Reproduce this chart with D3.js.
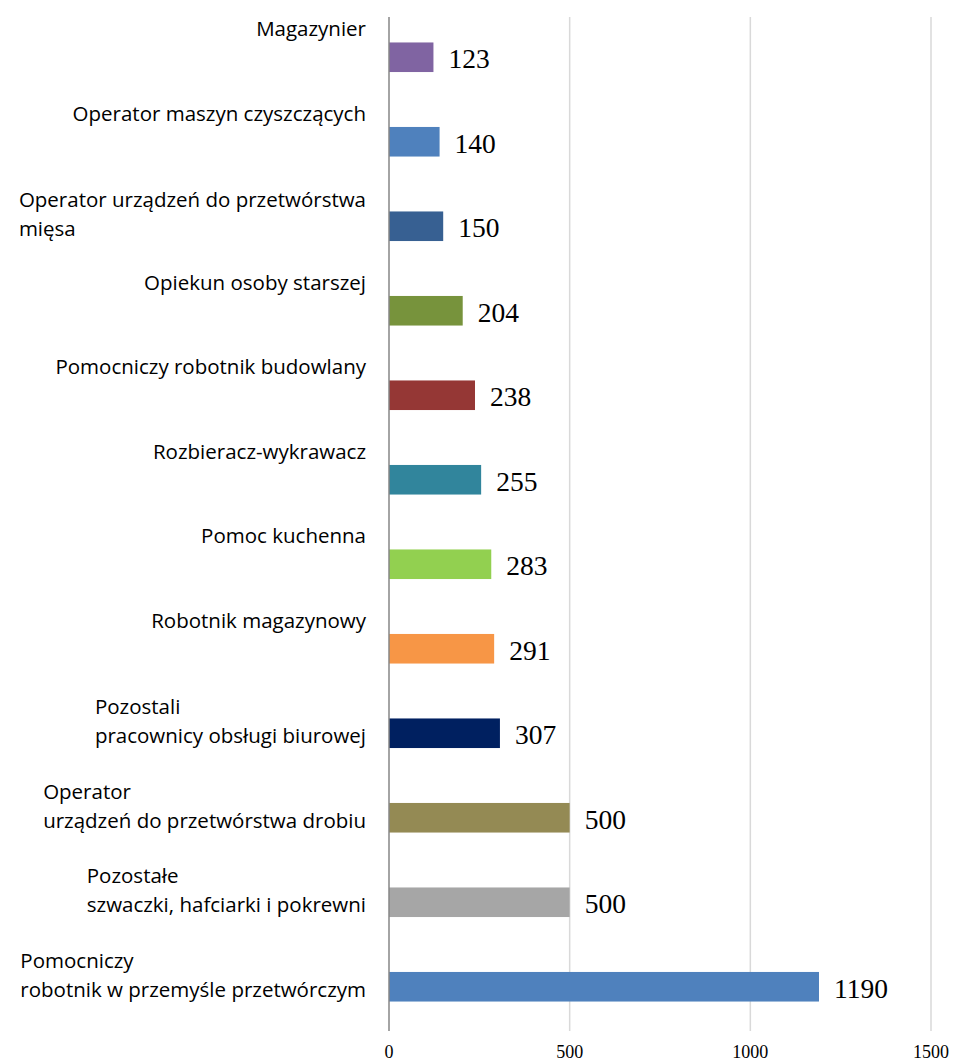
<!DOCTYPE html>
<html>
  <head>
    <meta charset="utf-8">
    <title>Zawody - bar chart</title>
    <style>
      body { margin: 0; background: #fff; }
      .cat { font-family: "Open Sans", sans-serif; font-size: 20.5px; fill: #000; }
      .val { font-family: "Liberation Serif", "Times New Roman", serif; font-size: 27.5px; fill: #000; }
      .tick { font-family: "Liberation Serif", "Times New Roman", serif; font-size: 18px; fill: #000; }
    </style>
  </head>
  <body>
    <div id="chart"></div>
    <script src="https://cdn.jsdelivr.net/npm/d3@7"></script>
    <script>

        var categories = [
          "Magazynier",
          "Operator maszyn czyszczących",
          "Operator urządzeń do przetwórstwa\nmięsa",
          "Opiekun osoby starszej",
          "Pomocniczy robotnik budowlany",
          "Rozbieracz-wykrawacz",
          "Pomoc kuchenna",
          "Robotnik magazynowy",
          "Pozostali\npracownicy obsługi biurowej",
          "Operator\nurządzeń do przetwórstwa drobiu",
          "Pozostałe\nszwaczki, hafciarki i pokrewni",
          "Pomocniczy\nrobotnik w przemyśle przetwórczym"
        ];
        var values = [123, 140, 150, 204, 238, 255, 283, 291, 307, 500, 500, 1190];
        var colors = ["#8064a2", "#4f81bd", "#376092", "#77933c", "#953735", "#31859c",
                      "#92d050", "#f79646", "#002060", "#948a54", "#a6a6a6", "#4f81bd"];
        var tickValues = [0, 500, 1000, 1500];

        var width = 954;
        var height = 1064;
        var labelRight = 366;

        var svg = d3.select('#chart')
          .append('svg')
          .attr('width', width)
          .attr('height', height);

        var x = d3.scaleLinear()
          .domain([0, 1500])
          .range([389, 931]);

        var y = d3.scaleBand()
          .domain(categories)
          .range([15, 1029])
          .paddingInner(0.65)
          .paddingOuter(0.325);

        var axisTop = 17, axisBottom = 1031;

        // gridlines
        svg.selectAll('line.grid')
          .data(tickValues.slice(1))
          .enter()
          .append('line')
          .attr('class', 'grid')
          .attr('x1', function(d) { return x(d); })
          .attr('x2', function(d) { return x(d); })
          .attr('y1', axisTop)
          .attr('y2', axisBottom)
          .attr('stroke', '#d9d9d9')
          .attr('stroke-width', 1.5);

        // bars
        svg.selectAll('rect.bar')
          .data(values)
          .enter()
          .append('rect')
          .attr('class', 'bar')
          .attr('x', x(0))
          .attr('y', function(d, i) { return y(categories[i]); })
          .attr('width', function(d) { return x(d) - x(0); })
          .attr('height', y.bandwidth())
          .attr('fill', function(d, i) { return colors[i]; });

        // zero axis line
        svg.append('line')
          .attr('x1', x(0)).attr('x2', x(0))
          .attr('y1', axisTop).attr('y2', axisBottom)
          .attr('stroke', '#868686')
          .attr('stroke-width', 1.5);

        // value labels
        svg.selectAll('text.val')
          .data(values)
          .enter()
          .append('text')
          .attr('class', 'val')
          .attr('x', function(d) { return x(d) + 15; })
          .attr('y', function(d, i) { return y(categories[i]) + y.bandwidth() / 2 + 11; })
          .text(function(d) { return d; });

        // category labels (left-aligned block, right edge at labelRight)
        categories.forEach(function(c, i) {
          var lines = c.split('\n');
          var top = y(c);
          var g = svg.append('text').attr('class', 'cat');
          lines.forEach(function(l, j) {
            var base = lines.length === 1 ? top - 6 : top - 4 + j * 29;
            g.append('tspan').attr('y', base).text(l);
          });
          var w = 0;
          g.selectAll('tspan').each(function() {
            w = Math.max(w, this.getComputedTextLength());
          });
          g.selectAll('tspan').attr('x', labelRight - w);
        });

        // x tick labels
        svg.selectAll('text.tick')
          .data(tickValues)
          .enter()
          .append('text')
          .attr('class', 'tick')
          .attr('x', function(d) { return x(d); })
          .attr('y', 1058)
          .attr('text-anchor', 'middle')
          .text(function(d) { return d; });

    </script>
  </body>
</html>
